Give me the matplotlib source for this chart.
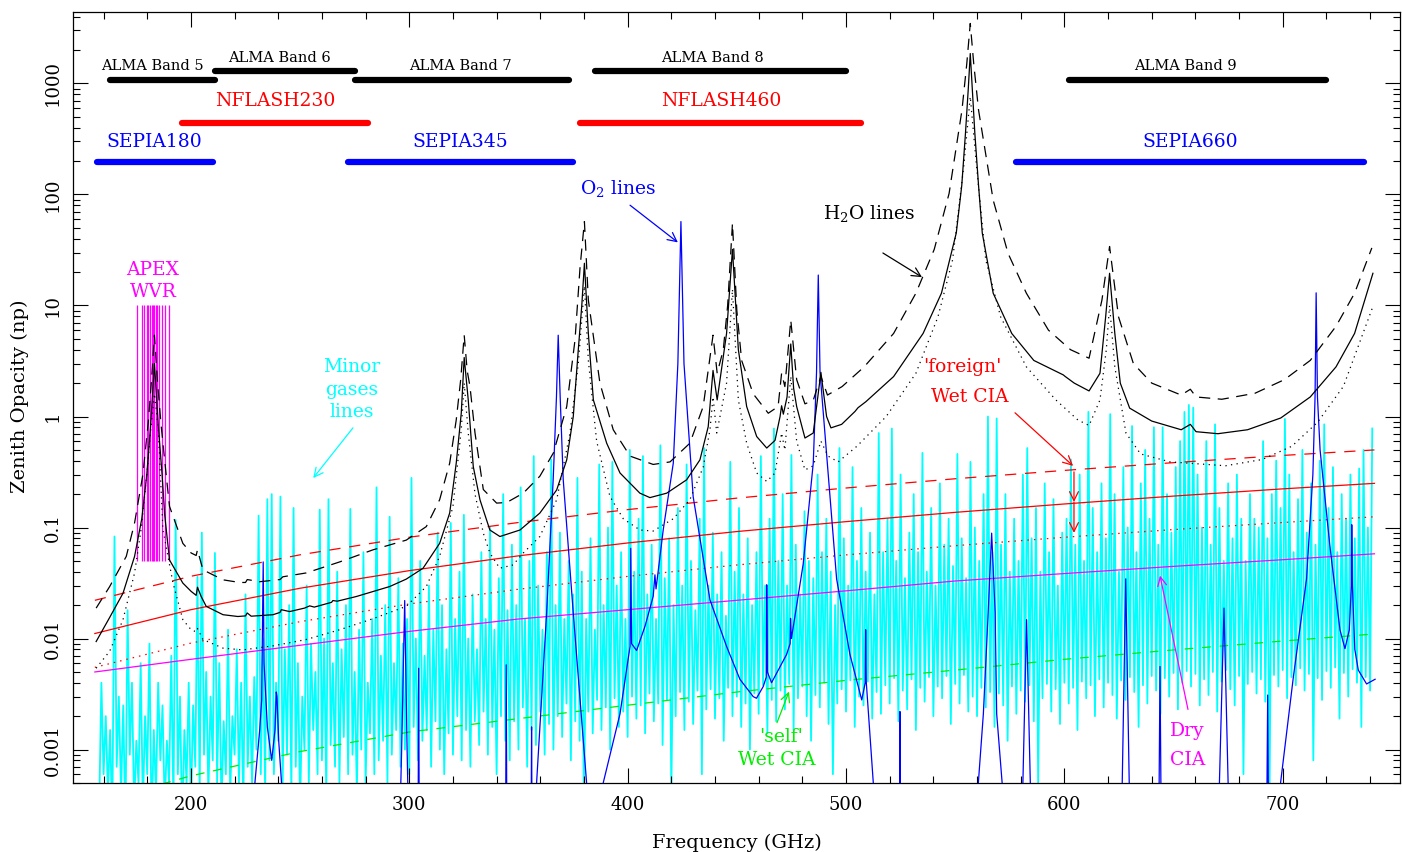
import numpy as np
import matplotlib
matplotlib.use('Agg')
import matplotlib.pyplot as plt
from matplotlib.ticker import FixedLocator, FuncFormatter, NullFormatter

plt.rcParams['font.family'] = 'DejaVu Serif'
plt.rcParams['mathtext.fontset'] = 'dejavuserif'

# ---- receiver / band coverage (GHz) ----
band_names = ['ALMA Band 5', 'ALMA Band 6', 'ALMA Band 7', 'ALMA Band 8', 'ALMA Band 9']
band_lo = [163, 211, 275, 385, 602]
band_hi = [211, 275, 373, 500, 720]
band_lev = [1070, 1290, 1070, 1290, 1070]
band_txt = [(182.4, 1430), (240.5, 1707), (323.5, 1430), (438.9, 1707), (655.6, 1430)]

nflash_names = ['NFLASH230', 'NFLASH460']
nflash_lo = [196, 378]
nflash_hi = [281, 507]
nflash_lev = 440
nflash_txt = [(238.5, 692), (442.7, 692)]

sepia_names = ['SEPIA180', 'SEPIA345', 'SEPIA660']
sepia_lo = [157, 272, 578]
sepia_hi = [210, 375, 737]
sepia_lev = 196
sepia_txt = [(183.3, 297), (323.5, 297), (657.7, 297)]

# APEX WVR channels
wvr_f = [175.1, 177.4, 178.6, 179.7, 180.4, 181.2, 182.0, 182.7, 183.2, 183.8,
         184.3, 185.3, 186.6, 188.1, 190.1]

# ---- H2O lines, three water columns ----
h2o_mid_f = [156.6, 162.8, 168.9, 174.2, 177.5, 179.8, 181.5, 182.6, 183.3, 184.0,
             185.1, 186.8, 188.0, 190.2, 196.3, 200.1, 202.4, 203.0, 204.7, 207.0,
             214.7, 221.5, 225.0, 225.8, 227.6, 237.6, 240.8, 241.4, 245.2, 252.0,
             254.4, 256.5, 264.4, 265.0, 267.0, 275.7, 291.0, 298.6, 306.3, 313.9,
             318.5, 321.5, 323.8, 325.15, 327.0, 329.3, 332.4, 336.9, 341.5, 350.7,
             359.8, 367.5, 372.1, 375.1, 377.4, 379.0, 380.2, 381.3, 382.0, 384.3,
             390.4, 396.5, 405.6, 410.2, 417.9, 427.0, 433.1, 436.9, 439.1, 441.0,
             445.3, 448.0, 450.7, 454.5, 459.1, 463.7, 467.5, 469.8, 470.5, 471.3,
             473.0, 474.7, 476.0, 477.4, 481.2, 485.0, 488.5, 491.1, 493.1, 498.0,
             504.1, 505.5, 509.1, 521.8, 535.3, 543.7, 550.5, 553.0, 554.7, 556.0,
             556.9, 557.8, 559.0, 560.7, 562.4, 567.4, 575.9, 586.0, 599.5, 600.3,
             604.5, 611.3, 616.3, 618.9, 620.7, 623.1, 625.6, 629.9, 640.0, 653.5,
             657.7, 660.3, 670.3, 683.9, 699.1, 712.6, 724.4, 732.9, 741.3]
h2o_mid = [0.0094, 0.0155, 0.0256, 0.055, 0.12, 0.3, 0.8, 1.8, 3.0, 1.8,
           0.8, 0.3, 0.13, 0.051, 0.0316, 0.0266, 0.0245, 0.029, 0.0239, 0.0195,
           0.0164, 0.0158, 0.016, 0.017, 0.0159, 0.0164, 0.0172, 0.0182, 0.0175, 0.0188,
           0.0197, 0.0192, 0.0212, 0.022, 0.0217, 0.0239, 0.0294, 0.0343, 0.043, 0.072,
           0.135, 0.38, 1.07, 3.4, 1.41, 0.354, 0.177, 0.095, 0.083, 0.095,
           0.135, 0.218, 0.407, 1.0, 4.0, 10.0, 24.0, 10.0, 5.6, 1.41,
           0.575, 0.31, 0.204, 0.186, 0.204, 0.269, 0.407, 0.81, 2.6, 1.41,
           5.6, 32.0, 4.0, 1.23, 0.66, 0.52, 0.61, 1.0, 1.25, 1.05,
           1.5, 4.5, 1.8, 1.23, 0.64, 0.71, 2.5, 1.0, 0.79, 0.85,
           1.11, 1.2, 1.36, 2.29, 5.6, 12.9, 45.0, 120.0, 355.0, 900.0,
           1860.0, 900.0, 355.0, 120.0, 45.0, 12.9, 5.6, 3.2, 2.37, 2.3,
           2.0, 1.7, 2.45, 7.9, 19.5, 5.6, 2.0, 1.19, 0.91, 0.76,
           0.85, 0.73, 0.70, 0.76, 0.97, 1.5, 2.8, 5.6, 19.5]

h2o_high_f = [156.6, 162.8, 170.4, 174.2, 178.0, 180.5, 182.0, 183.3, 184.6, 186.2,
              188.3, 190.2, 196.3, 200.1, 202.4, 203.0, 205.5, 214.7, 222.3, 225.0,
              225.8, 231.5, 240.8, 242.1, 252.8, 268.1, 283.4, 298.6, 307.8, 313.9,
              318.5, 321.5, 323.6, 325.15, 326.5, 327.8, 330.1, 333.9, 340.0, 344.6,
              352.2, 359.8, 366.0, 372.1, 375.9, 378.2, 380.2, 382.0, 387.3, 393.4,
              401.1, 411.7, 419.4, 428.5, 434.6, 439.1, 441.0, 443.8, 445.8, 448.0,
              450.0, 452.2, 457.5, 464.4, 468.9, 470.5, 472.0, 474.7, 477.4, 481.2,
              485.0, 488.5, 491.5, 498.2, 508.3, 521.8, 532.0, 540.4, 547.2, 553.1,
              555.3, 556.9, 558.5, 560.7, 567.4, 574.2, 582.6, 592.7, 602.8, 611.3,
              617.2, 620.7, 624.8, 631.6, 640.0, 653.5, 657.7, 660.3, 672.1, 687.3,
              700.8, 712.6, 724.4, 732.9, 740.8]
h2o_high = [0.0188, 0.0294, 0.055, 0.11, 0.3, 0.9, 2.2, 5.4, 2.2, 0.9,
            0.35, 0.155, 0.072, 0.059, 0.056, 0.063, 0.0416, 0.0338, 0.032, 0.032,
            0.034, 0.0325, 0.034, 0.036, 0.039, 0.049, 0.063, 0.077, 0.102, 0.178,
            0.38, 0.93, 2.2, 5.4, 2.6, 1.86, 0.71, 0.22, 0.166, 0.168,
            0.204, 0.29, 0.47, 1.23, 4.9, 22.0, 57.0, 11.2, 2.0, 0.76,
            0.44, 0.37, 0.39, 0.575, 1.23, 5.4, 2.45, 4.0, 10.0, 55.0,
            9.0, 3.2, 1.6, 1.07, 1.23, 2.45, 1.86, 7.4, 2.15, 1.3,
            1.4, 2.3, 1.56, 1.86, 2.8, 5.6, 12.9, 32.0, 102.0, 575.0,
            1500.0, 3470.0, 1500.0, 575.0, 89.0, 29.5, 12.9, 6.0, 4.0, 3.35,
            11.2, 34.0, 7.9, 3.0, 2.0, 1.56, 1.76, 1.5, 1.43, 1.62,
            2.15, 3.2, 6.5, 12.9, 33.0]

h2o_low_f = [156.6, 162.8, 168.9, 174.2, 177.3, 179.8, 181.7, 183.3, 185.0, 186.0,
             187.2, 191.8, 196.3, 200.1, 202.4, 203.0, 205.5, 214.7, 223.8, 237.6,
             252.8, 268.1, 283.4, 298.6, 307.8, 313.9, 320.0, 323.8, 325.15, 327.0,
             330.1, 333.9, 336.9, 341.4, 347.5, 352.2, 359.8, 367.5, 373.6, 377.4,
             380.2, 382.0, 385.8, 391.9, 398.0, 405.6, 411.7, 420.9, 428.5, 434.6,
             437.7, 439.1, 440.8, 445.3, 448.0, 450.7, 454.5, 459.1, 463.7, 467.5,
             470.5, 472.0, 474.7, 477.4, 481.2, 485.0, 488.5, 491.8, 496.4, 505.0,
             518.4, 532.0, 542.1, 548.8, 553.9, 556.9, 559.8, 564.0, 570.8, 582.6,
             596.1, 606.2, 611.3, 616.3, 619.2, 620.7, 623.1, 628.2, 634.9, 648.4,
             665.3, 673.8, 690.6, 704.2, 716.0, 727.8, 741.3]
h2o_low = [0.0054, 0.0077, 0.0148, 0.039, 0.1, 0.3, 0.8, 1.6, 0.8, 0.3,
           0.095, 0.0316, 0.0148, 0.012, 0.0115, 0.0123, 0.0098, 0.0082, 0.0079, 0.0086,
           0.0098, 0.012, 0.0151, 0.0195, 0.0294, 0.055, 0.155, 0.76, 2.0, 0.71,
           0.2, 0.089, 0.059, 0.043, 0.046, 0.059, 0.083, 0.178, 0.71, 3.0,
           15.0, 3.2, 0.6, 0.19, 0.12, 0.095, 0.093, 0.12, 0.178, 0.35,
           0.76, 1.5, 0.71, 2.0, 14.0, 1.41, 0.575, 0.31, 0.26, 0.31,
           0.71, 0.5, 2.3, 0.6, 0.33, 0.36, 0.6, 0.44, 0.39, 0.54,
           1.0, 2.45, 7.9, 25.7, 178.0, 760.0, 178.0, 25.7, 7.9, 2.8,
           1.41, 0.93, 0.83, 1.41, 4.0, 10.0, 2.8, 0.71, 0.46, 0.39,
           0.37, 0.36, 0.41, 0.54, 0.89, 1.87, 9.8]

# ---- O2 lines (1e-5 = below plotted range) ----
o2_f = [156.0, 228.5, 229.3, 231.5, 232.4, 233.1, 233.5, 235.0, 237.0, 238.5,
        239.1, 239.4, 240.2, 241.5, 242.5, 294.0, 296.5, 297.9, 299.0, 301.0,
        303.8, 304.3, 304.8, 343.9, 344.4, 344.9, 355.5, 356.0, 356.5, 358.3,
        362.9, 365.9, 367.4, 368.2, 369.1, 370.5, 375.1, 381.2, 384.0, 388.8,
        396.5, 401.1, 401.4, 401.8, 404.1, 408.0, 411.7, 412.5, 413.0, 416.3,
        420.9, 423.0, 424.4, 425.8, 430.0, 437.7, 445.3, 451.4, 457.5, 459.0,
        462.1, 463.5, 463.7, 464.0, 465.9, 472.8, 474.4, 474.6, 475.0, 480.4,
        485.0, 486.5, 487.3, 488.1, 489.6, 495.7, 501.8, 507.2, 508.8, 509.0,
        509.3, 512.5, 515.0, 524.4, 524.7, 525.0, 558.0, 560.6, 562.9, 565.1,
        566.7, 568.3, 569.0, 571.5, 575.0, 579.5, 581.0, 582.7, 584.4, 586.0,
        625.0, 626.5, 628.1, 629.7, 632.0, 642.5, 643.4, 643.8, 644.2, 646.0,
        669.0, 671.0, 673.1, 675.0, 677.0, 691.5, 692.8, 693.1, 693.4, 695.0,
        699.0, 704.8, 710.9, 713.8, 714.8, 715.3, 715.9, 717.1, 721.6, 726.2,
        728.5, 730.5, 731.4, 731.6, 731.9, 733.0, 734.6, 738.4, 742.3]
o2_val = [1e-5, 1e-5, 5e-4, 0.0015, 0.0028, 0.049, 0.006, 0.0016, 0.0008, 0.0015,
          0.0033, 0.003, 0.0012, 5e-4, 1e-5, 1e-5, 0.001, 0.022, 0.001, 1e-5,
          1e-5, 0.0054, 1e-5, 1e-5, 0.0058, 1e-5, 1e-5, 0.0016, 1e-5, 5e-4,
          0.017, 0.27, 1.5, 5.4, 1.5, 0.27, 0.017, 5e-4, 1e-4, 5e-4,
          0.0021, 0.0085, 0.065, 0.009, 0.0078, 0.013, 0.024, 0.0375, 0.028, 0.0955,
          0.38, 3.0, 57.0, 3.0, 0.19, 0.0223, 0.0085, 0.0043, 0.003, 0.0029,
          0.0037, 0.0045, 0.0305, 0.005, 0.004, 0.0072, 0.009, 0.0152, 0.01, 0.047,
          0.38, 2.5, 18.8, 2.5, 1.07, 0.0344, 0.0072, 0.0028, 0.004, 0.012,
          0.004, 5e-4, 1e-5, 1e-5, 0.0022, 1e-5, 1e-5, 5e-4, 0.0021, 0.017,
          0.089, 0.017, 0.0021, 5e-4, 1e-5, 1e-5, 5e-4, 0.0148, 5e-4, 1e-5,
          1e-5, 5e-4, 0.0345, 5e-4, 1e-5, 1e-5, 5e-4, 0.0056, 5e-4, 1e-5,
          1e-5, 5e-4, 0.0188, 5e-4, 1e-5, 1e-5, 5e-4, 0.0031, 5e-4, 1e-5,
          5e-4, 0.0044, 0.0344, 0.3, 1.5, 13.0, 1.5, 0.5, 0.068, 0.012,
          0.0081, 0.012, 0.03, 0.106, 0.03, 0.008, 0.0052, 0.0039, 0.0043]

# ---- minor gases, 1 GHz channels ----
minor_f = list(range(158, 742))
minor_val = [
    3e-4, 0.004, 6e-4, 0.002, 4e-4, 0.0015, 2e-4, 0.083, 7e-4, 0.003,
    4e-4, 0.0025, 2e-4, 0.018, 9e-4, 0.004, 3e-4, 0.0012, 5e-4, 0.006,
    3e-4, 0.002, 6e-4, 0.009, 2e-4, 0.0015, 4e-4, 0.004, 8e-4, 0.0025,
    3e-4, 0.0012, 5e-4, 0.007, 3e-4, 0.117, 6e-4, 0.003, 2e-4, 0.0015,
    5e-4, 0.004, 3e-4, 0.0025, 7e-4, 0.036, 4e-4, 0.09, 9e-4, 0.005,
    4e-4, 0.003, 8e-4, 0.059, 5e-4, 0.006, 3e-4, 0.0018, 6e-4, 0.012,
    4e-4, 0.002, 9e-4, 0.008, 5e-4, 0.004, 3e-4, 0.025, 7e-4, 0.003,
    5e-4, 0.0045, 1e-3, 0.128, 6e-4, 0.01, 4e-4, 0.18, 8e-4, 0.2,
    6e-4, 0.004, 1.2e-3, 0.19, 5e-4, 0.008, 9e-4, 0.02, 4e-4, 0.15,
    7e-4, 0.006, 3e-4, 0.003, 1e-3, 0.03, 5e-4, 0.009, 1.5e-3, 0.005,
    6e-4, 0.145, 8e-4, 0.01, 4e-4, 0.18, 1.1e-3, 0.006, 7e-4, 0.04,
    5e-4, 0.008, 1.3e-3, 0.02, 6e-4, 0.147, 9e-4, 0.005, 4e-4, 0.012,
    1e-3, 0.06, 5e-4, 0.004, 1.4e-3, 0.015, 6e-4, 0.23, 8e-4, 0.007,
    1.2e-3, 0.02, 5e-4, 0.125, 9e-4, 0.006, 1.5e-3, 0.035, 7e-4, 0.009,
    1e-3, 0.015, 6e-4, 0.28, 1.6e-3, 0.01, 8e-4, 0.05, 1.2e-3, 0.007,
    1.5e-3, 0.03, 7e-4, 0.012, 1.8e-3, 0.09, 1e-3, 0.02, 6e-4, 0.008,
    1.4e-3, 0.11, 9e-4, 0.015, 2e-3, 0.04, 8e-4, 0.13, 1.5e-3, 0.01,
    7e-4, 0.025, 1.8e-3, 0.008, 1.1e-3, 0.06, 2.2e-3, 0.015, 9e-4, 0.1,
    1.6e-3, 0.012, 6e-4, 0.035, 2e-3, 0.2, 1.2e-3, 0.018, 8e-4, 0.07,
    1.8e-3, 0.02, 1e-3, 0.23, 2.4e-3, 0.015, 7e-4, 0.05, 1.5e-3, 0.44,
    1.1e-3, 0.03, 2.2e-3, 0.012, 9e-4, 0.06, 1.7e-3, 0.41, 1e-3, 0.02,
    2e-3, 0.09, 1.3e-3, 0.015, 2.6e-3, 0.05, 8e-4, 0.025, 1.8e-3, 0.28,
    1.2e-3, 0.04, 3e-4, 0.015, 2.2e-3, 0.08, 1.4e-3, 0.012, 2.8e-3, 0.37,
    1.5e-3, 0.02, 2.4e-3, 0.1, 1e-3, 0.39, 2.9e-3, 0.03, 1.6e-3, 0.06,
    2.2e-3, 0.015, 1.3e-3, 0.5, 3e-3, 0.04, 1.9e-3, 0.12, 2.5e-3, 0.44,
    1.4e-3, 0.025, 3.2e-3, 0.07, 1.8e-3, 0.015, 2.6e-3, 0.55, 1.1e-3, 0.035,
    2.8e-3, 0.08, 4e-4, 0.02, 2e-3, 0.15, 3.3e-3, 0.03, 1.5e-3, 0.37,
    2.7e-3, 0.05, 1.7e-3, 0.018, 3.4e-3, 0.12, 6e-4, 0.52, 2.3e-3, 0.03,
    3.5e-3, 0.09, 1.9e-3, 0.025, 2.9e-3, 0.06, 1.2e-3, 0.016, 3.6e-3, 0.39,
    2e-3, 0.04, 3e-3, 0.15, 1.6e-3, 0.025, 2.6e-3, 0.08, 1e-3, 0.02,
    3.2e-3, 0.06, 2.1e-3, 0.44, 3.8e-3, 0.03, 1.4e-3, 0.12, 2.8e-3, 0.78,
    1.8e-3, 0.05, 3.4e-3, 0.2, 2.3e-3, 0.03, 3.9e-3, 0.45, 1.5e-3, 0.07,
    2.9e-3, 0.025, 3.7e-3, 0.14, 2e-3, 0.05, 1.2e-3, 0.035, 3.1e-3, 0.3,
    2.4e-3, 0.06, 4e-3, 0.12, 1.7e-3, 0.04, 6e-4, 0.02, 2.6e-3, 0.52,
    3.5e-3, 0.08, 2.2e-3, 0.03, 4.2e-3, 0.35, 1.6e-3, 0.05, 3e-3, 0.15,
    2.5e-3, 0.04, 4.1e-3, 0.09, 1.9e-3, 0.025, 3.3e-3, 0.71, 2.1e-3, 0.06,
    3.8e-3, 0.12, 2.6e-3, 0.78, 4.4e-3, 0.05, 1.8e-3, 0.3, 3.4e-3, 0.035,
    2.3e-3, 0.09, 4.3e-3, 0.2, 1.5e-3, 0.06, 3.6e-3, 0.47, 2.7e-3, 0.04,
    4.5e-3, 0.15, 2e-3, 0.03, 3.7e-3, 0.25, 2.9e-3, 0.07, 4.6e-3, 0.12,
    1.7e-3, 0.045, 3.9e-3, 0.46, 2.6e-3, 0.08, 4.7e-3, 0.035, 2.2e-3, 0.39,
    3e-3, 0.1, 2e-3, 0.05, 3.6e-3, 0.2, 2.4e-3, 1.0, 3.3e-3, 0.06,
    1.6e-3, 0.96, 3.2e-3, 0.07, 2.5e-3, 0.2, 1.2e-3, 0.04, 3.7e-3, 0.12,
    2.1e-3, 0.05, 3.4e-3, 0.3, 2.7e-3, 0.52, 3.8e-3, 0.08, 1.8e-3, 0.15,
    5e-4, 0.04, 2.9e-3, 0.25, 3.9e-3, 0.06, 2.2e-3, 0.18, 3.5e-3, 0.03,
    1.7e-3, 0.09, 4e-3, 0.12, 2.6e-3, 0.41, 3.6e-3, 0.07, 1.5e-3, 0.3,
    4.1e-3, 0.05, 2.9e-3, 1.1, 3.8e-3, 0.15, 2e-3, 0.06, 4.3e-3, 0.25,
    2.4e-3, 0.08, 4e-3, 1.05, 3.1e-3, 0.2, 1.9e-3, 0.04, 4.2e-3, 0.35,
    2.8e-3, 0.1, 4.5e-3, 0.82, 3.3e-3, 0.06, 1.6e-3, 0.25, 3.8e-3, 0.5,
    2.6e-3, 0.12, 4.6e-3, 0.8, 3.4e-3, 0.07, 2.1e-3, 0.8, 4.4e-3, 0.2,
    3e-3, 0.09, 4.9e-3, 0.35, 2.3e-3, 0.6, 4e-3, 1.1, 5.1e-3, 1.27,
    3.7e-3, 1.2, 4.8e-3, 0.3, 2.5e-3, 0.1, 4.3e-3, 0.6, 3.1e-3, 0.07,
    5e-3, 0.85, 2.2e-3, 0.15, 4.1e-3, 0.05, 5.2e-3, 0.25, 3.5e-3, 0.08,
    2.5e-3, 0.3, 4.6e-3, 0.12, 6e-4, 0.05, 3.9e-3, 0.2, 5e-3, 0.12,
    3.2e-3, 0.1, 4.3e-3, 0.6, 2.7e-3, 0.08, 5e-4, 0.2, 4.7e-3, 0.4,
    3.7e-3, 0.15, 5.2e-3, 0.95, 2.9e-3, 0.3, 4.5e-3, 0.06, 3.8e-3, 0.18,
    5.4e-3, 0.5, 3.4e-3, 0.09, 4.8e-3, 0.25, 8e-4, 0.07, 4.4e-3, 0.4,
    2.8e-3, 0.85, 5.1e-3, 0.15, 3.6e-3, 0.35, 5.5e-3, 0.06, 1.9e-3, 0.2,
    4.9e-3, 0.12, 3e-3, 0.3, 5.3e-3, 0.08, 4e-3, 0.34, 1.6e-3, 0.5,
    4.5e-3, 0.1, 3.4e-3, 0.78]

# ---- continuum (CIA) ----
cia_f = [156, 200, 250, 300, 350, 400, 450, 500, 550, 600, 650, 700, 742]
wet_foreign_high = [0.0221, 0.0364, 0.0568, 0.0818, 0.111, 0.145, 0.184, 0.227, 0.275, 0.327, 0.384, 0.446, 0.50]
wet_foreign_mid = [0.0111, 0.0182, 0.0284, 0.0409, 0.0556, 0.0726, 0.092, 0.113, 0.137, 0.163, 0.192, 0.223, 0.25]
wet_foreign_low = [0.0055, 0.0091, 0.0142, 0.0205, 0.0278, 0.0363, 0.046, 0.0567, 0.0686, 0.0817, 0.0959, 0.111, 0.125]
dry_cia = [0.0050, 0.0065, 0.0087, 0.0116, 0.0150, 0.0182, 0.0221, 0.0269, 0.0330, 0.0385, 0.0447, 0.0513, 0.058]
wet_self = [0.00033, 0.00058, 0.00096, 0.00144, 0.0019, 0.00251, 0.0033, 0.0042, 0.0052, 0.0065, 0.0079, 0.0095, 0.011]

x_ticks = [200, 300, 400, 500, 600, 700]
y_ticks = [0.001, 0.01, 0.1, 1, 10, 100, 1000]
y_tick_labels = ['0.001', '0.01', '0.1', '1', '10', '100', '1000']

RED = '#ff0000'
BLUE = '#0000ff'
MAG = '#ff00ff'
CYAN = '#00ffff'
GREEN = '#00ee00'

fig = plt.figure(figsize=(14.02, 8.52), dpi=100)
ax = fig.add_axes([73/1402, 69/852, 1327/1402, 771/852])
ax.set_yscale('log')
ax.set_xlim(146.0, 753.7)
ax.set_ylim(5.0e-4, 4.4e3)

ax.plot(minor_f, minor_val, color=CYAN, lw=1.3, zorder=1)
ax.plot(o2_f, o2_val, color=BLUE, lw=0.9, zorder=3)

ax.plot(h2o_mid_f, h2o_mid, color='black', lw=0.9, zorder=4)
ax.plot(h2o_high_f, h2o_high, color='black', lw=0.9, dashes=(9, 6), zorder=4)
ax.plot(h2o_low_f, h2o_low, color='black', lw=0.9, dashes=(1, 3.5), zorder=4)

ax.plot(cia_f, wet_foreign_high, color=RED, lw=0.9, dashes=(9, 7), zorder=2)
ax.plot(cia_f, wet_foreign_mid, color=RED, lw=0.9, zorder=2)
ax.plot(cia_f, wet_foreign_low, color=RED, lw=0.9, dashes=(1.2, 4), zorder=2)
ax.plot(cia_f, dry_cia, color=MAG, lw=0.9, zorder=2)
ax.plot(cia_f, wet_self, color=GREEN, lw=0.9, dashes=(7, 7), zorder=2)

ax.vlines(wvr_f, 0.05, 10, colors=MAG, lw=0.9, zorder=2)

for name, lo, hi, lev, (tx, ty) in zip(band_names, band_lo, band_hi, band_lev, band_txt):
    ax.plot([lo, hi], [lev, lev], color='black', lw=4.5, solid_capstyle='round', zorder=5)
    ax.text(tx, ty, name, ha='center', va='center', fontsize=10.5, color='black')
for name, lo, hi, (tx, ty) in zip(nflash_names, nflash_lo, nflash_hi, nflash_txt):
    ax.plot([lo, hi], [nflash_lev, nflash_lev], color=RED, lw=4.5, solid_capstyle='round', zorder=5)
    ax.text(tx, ty, name, ha='center', va='center', fontsize=13.5, color=RED)
for name, lo, hi, (tx, ty) in zip(sepia_names, sepia_lo, sepia_hi, sepia_txt):
    ax.plot([lo, hi], [sepia_lev, sepia_lev], color=BLUE, lw=4.5, solid_capstyle='round', zorder=5)
    ax.text(tx, ty, name, ha='center', va='center', fontsize=13.5, color=BLUE)

# annotations
fs = 13.5
ax.text(182.6, 20.9, 'APEX', ha='center', va='center', fontsize=fs, color=MAG)
ax.text(182.6, 13.2, 'WVR', ha='center', va='center', fontsize=fs, color=MAG)

ax.text(273.7, 2.79, 'Minor', ha='center', va='center', fontsize=fs, color=CYAN)
ax.text(273.7, 1.74, 'gases', ha='center', va='center', fontsize=fs, color=CYAN)
ax.text(273.7, 1.10, 'lines', ha='center', va='center', fontsize=fs, color=CYAN)

ax.text(395.6, 112, 'O$_2$ lines', ha='center', va='center', fontsize=fs, color=BLUE)
ax.text(510.5, 68, 'H$_2$O lines', ha='center', va='center', fontsize=fs, color='black')

ax.text(553.3, 2.81, "'foreign'", ha='center', va='center', fontsize=fs, color=RED)
ax.text(556.5, 1.51, 'Wet CIA', ha='center', va='center', fontsize=fs, color=RED)

ax.text(470.3, 0.00131, "'self'", ha='center', va='center', fontsize=fs, color=GREEN)
ax.text(468.4, 0.00081, 'Wet CIA', ha='center', va='center', fontsize=fs, color=GREEN)

ax.text(656.4, 0.00146, 'Dry', ha='center', va='center', fontsize=fs, color=MAG)
ax.text(656.6, 0.00081, 'CIA', ha='center', va='center', fontsize=fs, color=MAG)

def arrow(start, end, color):
    ax.annotate('', xy=end, xytext=start,
                arrowprops=dict(arrowstyle='->', color=color, lw=0.9,
                                mutation_scale=16, shrinkA=0, shrinkB=0), zorder=6)

arrow((274.2, 0.79), (256.0, 0.279), CYAN)
arrow((401.1, 80), (423.0, 37), BLUE)
arrow((516.9, 29.7), (534.8, 18), 'black')
arrow((577.4, 1.08), (604.0, 0.359), RED)
arrow((604.4, 0.317), (604.4, 0.170), RED)
arrow((604.4, 0.170), (604.4, 0.0895), RED)
arrow((468.4, 0.00175), (473.9, 0.00333), GREEN)
arrow((656.6, 0.0023), (643.8, 0.0369), MAG)

# axes styling
ax.xaxis.set_major_locator(FixedLocator(x_ticks))
ax.xaxis.set_minor_locator(FixedLocator([v for v in range(160, 760, 20) if v % 100]))
ax.yaxis.set_major_locator(FixedLocator(y_ticks))
ax.yaxis.set_minor_locator(FixedLocator([m * d for d in [1e-4, 1e-3, 1e-2, 0.1, 1, 10, 100, 1000]
                                         for m in range(2, 10) if 5e-4 <= m * d <= 4.4e3]))
ax.yaxis.set_major_formatter(FuncFormatter(lambda v, p: y_tick_labels[y_ticks.index(v)] if v in y_ticks else ''))
ax.yaxis.set_minor_formatter(NullFormatter())
ax.xaxis.set_minor_formatter(NullFormatter())
ax.tick_params(which='both', direction='in', top=True, right=True, labelsize=13, width=0.8)
ax.tick_params(which='major', length=10.5)
ax.tick_params(which='minor', length=5)
ax.tick_params(axis='x', pad=9)
ax.tick_params(axis='y', pad=8, labelrotation=90)
for t in ax.get_yticklabels():
    t.set_va('center')
for s in ax.spines.values():
    s.set_linewidth(0.9)

fig.text(737/1402, 1 - 843/852, 'Frequency (GHz)', ha='center', va='center', fontsize=14)
fig.text(20/1402, 1 - 396/852, 'Zenith Opacity (np)', ha='center', va='center', fontsize=14, rotation=90)

fig.savefig('out.png', dpi=100)
